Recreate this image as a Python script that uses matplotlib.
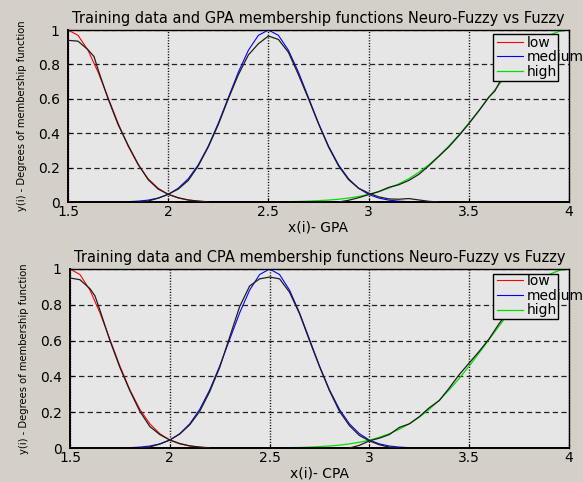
import matplotlib
matplotlib.use("Agg")
import matplotlib.pyplot as plt
from matplotlib.patches import Rectangle

# ---------------- data ----------------
# Fuzzy membership functions (coloured)
low_x = [1.50, 1.55, 1.60, 1.65, 1.70, 1.75, 1.80, 1.85, 1.90, 1.95, 2.00, 2.05,
         2.10, 2.15, 2.20, 2.25, 4.00]
low_y = [1.0, 0.969, 0.882, 0.755, 0.607, 0.458, 0.325, 0.216, 0.135, 0.080, 0.044,
         0.023, 0.011, 0.005, 0.002, 0.0, 0.0]

med_x = [1.80, 1.85, 1.90, 1.95, 2.00, 2.05, 2.10, 2.15, 2.20, 2.25, 2.30, 2.35,
         2.40, 2.45, 2.50, 2.55, 2.60, 2.65, 2.70, 2.75, 2.80, 2.85, 2.90, 2.95,
         3.00, 3.05, 3.10, 3.15, 3.20]
med_y = [0.002, 0.005, 0.011, 0.023, 0.044, 0.080, 0.135, 0.216, 0.325, 0.458,
         0.607, 0.755, 0.882, 0.969, 1.0, 0.969, 0.882, 0.755, 0.607, 0.458, 0.325,
         0.216, 0.135, 0.080, 0.044, 0.023, 0.011, 0.005, 0.002]

high_x = [2.50, 2.55, 2.60, 2.65, 2.70, 2.75, 2.80, 2.85, 2.90, 2.95, 3.00, 3.05,
          3.10, 3.15, 3.20, 3.25, 3.30, 3.35, 3.40, 3.45, 3.50, 3.55, 3.60, 3.65,
          3.70, 3.75, 3.80, 3.85, 3.90, 3.95, 4.00]
high_y = [0.001, 0.001, 0.002, 0.003, 0.005, 0.008, 0.011, 0.016, 0.023, 0.032,
          0.044, 0.060, 0.080, 0.105, 0.135, 0.172, 0.216, 0.267, 0.325, 0.389,
          0.458, 0.531, 0.607, 0.682, 0.755, 0.823, 0.882, 0.932, 0.969, 0.992, 1.0]

# Neuro-fuzzy training data (black) - GPA
nf_low_gpa_x = [1.50, 1.55, 1.60, 1.63, 1.65, 1.70, 1.75, 1.80, 1.85, 1.90, 1.95,
                2.00, 2.05, 2.10, 2.15, 2.20]
nf_low_gpa_y = [0.94, 0.935, 0.885, 0.845, 0.77, 0.60, 0.45, 0.33, 0.22, 0.13, 0.075,
                0.045, 0.025, 0.012, 0.005, 0.0]
nf_med_gpa_x = [1.85, 1.90, 1.95, 2.00, 2.05, 2.10, 2.15, 2.20, 2.25, 2.30, 2.35,
                2.40, 2.45, 2.50, 2.55, 2.60, 2.65, 2.70, 2.75, 2.80, 2.85, 2.90,
                2.95, 3.00, 3.05, 3.10, 3.15, 3.20, 3.25, 3.30, 3.35]
nf_med_gpa_y = [0.0, 0.006, 0.022, 0.045, 0.075, 0.125, 0.21, 0.32, 0.45, 0.60, 0.74,
                0.855, 0.92, 0.965, 0.945, 0.87, 0.74, 0.60, 0.455, 0.32, 0.21, 0.13,
                0.08, 0.052, 0.03, 0.018, 0.016, 0.02, 0.012, 0.004, 0.0]
nf_high_gpa_x = [2.85, 2.90, 2.95, 3.00, 3.05, 3.10, 3.15, 3.20, 3.25, 3.30, 3.35,
                 3.40, 3.45, 3.50, 3.55, 3.60, 3.63, 3.66, 3.70, 3.75, 3.80, 3.85, 3.90]
nf_high_gpa_y = [0.0, 0.01, 0.025, 0.043, 0.06, 0.085, 0.10, 0.125, 0.16, 0.21, 0.265,
                 0.32, 0.385, 0.455, 0.53, 0.61, 0.645, 0.71, 0.75, 0.82, 0.88, 0.93,
                 0.965]

# Neuro-fuzzy training data (black) - CPA
nf_low_cpa_x = [1.50, 1.55, 1.58, 1.60, 1.625, 1.65, 1.70, 1.75, 1.80, 1.85, 1.90,
                1.95, 2.00, 2.05, 2.10, 2.15, 2.20]
nf_low_cpa_y = [0.95, 0.94, 0.91, 0.89, 0.85, 0.77, 0.60, 0.45, 0.32, 0.205, 0.12,
                0.075, 0.045, 0.025, 0.012, 0.005, 0.0]
nf_med_cpa_x = [1.85, 1.90, 1.95, 2.00, 2.05, 2.10, 2.15, 2.20, 2.25, 2.30, 2.35,
                2.40, 2.45, 2.50, 2.55, 2.60, 2.65, 2.70, 2.75, 2.80, 2.85, 2.90,
                2.95, 3.00, 3.05, 3.10, 3.15]
nf_med_cpa_y = [0.0, 0.006, 0.022, 0.045, 0.078, 0.13, 0.205, 0.315, 0.45, 0.62,
                0.79, 0.905, 0.945, 0.955, 0.945, 0.87, 0.75, 0.60, 0.455, 0.32,
                0.205, 0.125, 0.07, 0.04, 0.018, 0.005, 0.0]
nf_high_cpa_x = [2.90, 2.95, 3.00, 3.05, 3.10, 3.15, 3.20, 3.25, 3.30, 3.35, 3.40,
                 3.45, 3.50, 3.55, 3.60, 3.65, 3.70, 3.75, 3.80, 3.85]
nf_high_cpa_y = [0.0, 0.015, 0.04, 0.055, 0.075, 0.115, 0.135, 0.175, 0.225, 0.265,
                 0.335, 0.41, 0.475, 0.54, 0.61, 0.695, 0.77, 0.83, 0.89, 0.94]

xticks = [1.5, 2, 2.5, 3, 3.5, 4]
xticklabels = ["1.5", "2", "2.5", "3", "3.5", "4"]
yticks = [0, 0.2, 0.4, 0.6, 0.8, 1]
yticklabels = ["0", "0.2", "0.4", "0.6", "0.8", "1"]
legend_labels = ["low", "medium", "high"]
titles = ["Training data and GPA membership functions Neuro-Fuzzy vs Fuzzy",
          "Training data and CPA membership functions Neuro-Fuzzy vs Fuzzy"]
xlabels = ["x(i)- GPA", "x(i)- CPA"]
ylabel = "y(i) - Degrees of membership function"

# ---------------- style ----------------
plt.rcParams["font.family"] = ["DejaVu Sans"]
plt.rcParams["lines.scale_dashes"] = False
FIG_BG = "#d4d0c8"
AX_BG = "#e6e6e6"
FS = 10

fig = plt.figure(figsize=(5.83, 4.82), dpi=100, facecolor=FIG_BG)
W, H = 583, 482

def add_ax(l, r, t, b):
    return fig.add_axes([l / W, 1 - b / H, (r - l) / W, (b - t) / H])

axes = [add_ax(68, 569, 30, 202), add_ax(70, 569, 269, 448)]
nf_sets = [
    (nf_low_gpa_x, nf_low_gpa_y, nf_med_gpa_x, nf_med_gpa_y, nf_high_gpa_x, nf_high_gpa_y),
    (nf_low_cpa_x, nf_low_cpa_y, nf_med_cpa_x, nf_med_cpa_y, nf_high_cpa_x, nf_high_cpa_y),
]

for i, ax in enumerate(axes):
    ax.set_facecolor(AX_BG)
    l1, = ax.plot(low_x, low_y, color="#ff0000", lw=0.8, zorder=2)
    l2, = ax.plot(med_x, med_y, color="#0000ff", lw=0.8, zorder=2)
    l3, = ax.plot(high_x, high_y, color="#00e000", lw=0.9, zorder=2)
    lx, ly, mx, my, hx, hy = nf_sets[i]
    for xs, ys in ((lx, ly), (mx, my), (hx, hy)):
        ax.plot(xs, ys, color="#1e1e1e", lw=0.9, zorder=3)

    ax.set_xlim(1.5, 4)
    ax.set_ylim(0, 1)
    ax.set_xticks(xticks)
    ax.set_xticklabels(xticklabels)
    ax.set_yticks(yticks)
    ax.set_yticklabels(yticklabels)
    ax.tick_params(direction="in", length=3, labelsize=FS, pad=2, colors="black")
    ax.tick_params(axis="y", pad=6)
    ax.xaxis.grid(True, color="black", lw=1.0, linestyle=(0, (0.8, 1.2)))
    ax.yaxis.grid(True, color="#202020", lw=0.9, linestyle=(0, (3.8, 2.4)))
    ax.set_axisbelow(True)
    for s in ax.spines.values():
        s.set_color("black")
        s.set_linewidth(1.0)
    ax.spines["left"].set_linewidth(1.4)
    ax.spines["bottom"].set_linewidth(1.4)

    ax.set_title(titles[i], fontsize=10.5, pad=5)
    ax.set_xlabel(xlabels[i], fontsize=FS, labelpad=1)
    ax.set_ylabel(ylabel, fontsize=7.2, labelpad=8)

    ax.add_patch(Rectangle((0.848, 0.705 if i == 0 else 0.721), 0.130,
                           0.272 if i == 0 else 0.251, transform=ax.transAxes,
                           facecolor=AX_BG, edgecolor="black", lw=1.0, zorder=4,
                           clip_on=False))
    leg = ax.legend([l1, l2, l3], legend_labels, loc="upper left",
                    bbox_to_anchor=(0.856, 0.968 if i == 0 else 0.972),
                    frameon=False, fontsize=FS, borderpad=0, borderaxespad=0,
                    handlelength=1.85, handletextpad=0.3, labelspacing=0.05)
    leg.set_zorder(5)

fig.savefig("out.png", dpi=100, facecolor=FIG_BG)
